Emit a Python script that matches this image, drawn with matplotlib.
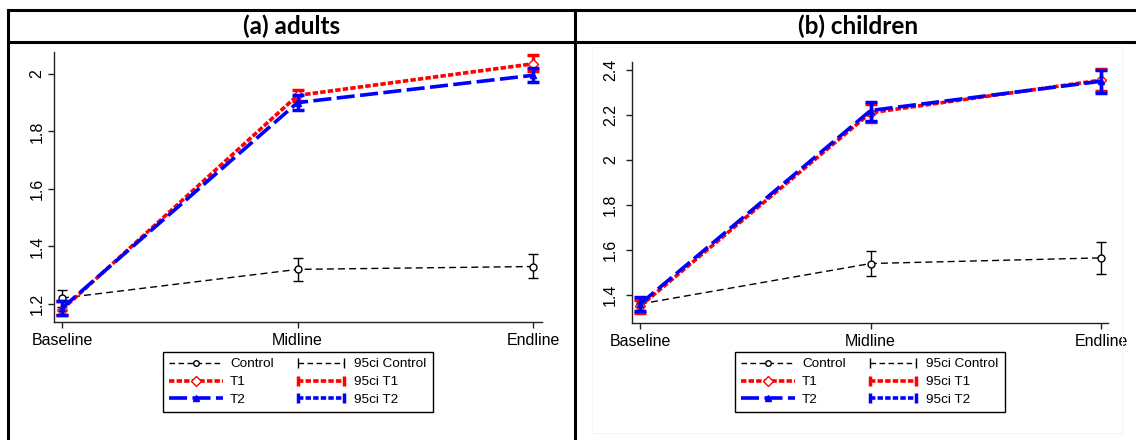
import numpy as np
import matplotlib
matplotlib.use('Agg')
import matplotlib.pyplot as plt
from matplotlib.lines import Line2D
from matplotlib.patches import Rectangle
from matplotlib.legend_handler import HandlerLine2D

plt.rcParams['font.family'] = ['Liberation Sans', 'DejaVu Sans']

waves = ['Baseline', 'Midline', 'Endline']

# (a) adults
adult_ctrl = [1.22, 1.32, 1.33]
adult_ctrl_lo = [1.19, 1.28, 1.29]
adult_ctrl_hi = [1.25, 1.36, 1.375]
adult_t1 = [1.18, 1.925, 2.035]
adult_t1_lo = [1.16, 1.905, 2.01]
adult_t1_hi = [1.21, 1.945, 2.065]
adult_t2 = [1.185, 1.90, 1.995]
adult_t2_lo = [1.16, 1.875, 1.97]
adult_t2_hi = [1.21, 1.925, 2.02]

# (b) children
child_ctrl = [1.36, 1.54, 1.565]
child_ctrl_lo = [1.335, 1.485, 1.495]
child_ctrl_hi = [1.39, 1.595, 1.635]
child_t1 = [1.35, 2.21, 2.355]
child_t1_lo = [1.32, 2.17, 2.305]
child_t1_hi = [1.38, 2.25, 2.405]
child_t2 = [1.36, 2.22, 2.35]
child_t2_lo = [1.33, 2.175, 2.30]
child_t2_hi = [1.39, 2.26, 2.40]

adult_yticks = [1.2, 1.4, 1.6, 1.8, 2.0]
child_yticks = [1.4, 1.6, 1.8, 2.0, 2.2, 2.4]

fig = plt.figure(figsize=(11.36, 4.4), dpi=100)
W, H = 1136, 440


def fx(px):
    return px / W


def fy(py):
    return 1 - py / H


# table-like frame
for x0, y0, x1, y1 in [(8, 10, 1136, 10), (8, 42, 1136, 42), (8, 10, 8, 440), (575, 10, 575, 440)]:
    fig.add_artist(Line2D([fx(x0), fx(x1)], [fy(y0), fy(y1)], color='black', lw=2.2,
                          transform=fig.transFigure))
fig.add_artist(Rectangle((fx(592), fy(433)), fx(1122 - 592), (433 - 47) / H, fill=False,
                         edgecolor='#f4f6f6', lw=0.8, transform=fig.transFigure))

fig.text(fx(292), fy(26), '(a) adults', ha='center', va='center', fontsize=17.5,
         fontweight='bold', family=['Lato', 'DejaVu Sans'])
fig.text(fx(858), fy(26), '(b) children', ha='center', va='center', fontsize=17.5,
         fontweight='bold', family=['Lato', 'DejaVu Sans'])


def panel(rect, ctrl, clo, chi, t1, t1lo, t1hi, t2, t2lo, t2hi, yticks, ylim, xlim, ypad, legx):
    ax = fig.add_axes(rect)
    x = np.arange(len(waves))
    ax.errorbar(x, ctrl, yerr=[np.subtract(ctrl, clo), np.subtract(chi, ctrl)], fmt='none',
                ecolor='black', elinewidth=1, capsize=3.5, capthick=1, zorder=2)
    ax.plot(x, ctrl, color='black', lw=1, dashes=(5, 3), marker='o', markersize=5,
            markerfacecolor='white', markeredgecolor='black', zorder=3)
    ax.errorbar(x, t1, yerr=[np.subtract(t1, t1lo), np.subtract(t1hi, t1)], fmt='none',
                ecolor='red', elinewidth=2.5, capsize=4, capthick=2.5, zorder=4)
    ax.plot(x, t1, color='red', lw=2.6, dashes=(1.5, 0.6), marker='D', markersize=5,
            markerfacecolor='white', markeredgecolor='red', zorder=5)
    ax.errorbar(x, t2, yerr=[np.subtract(t2, t2lo), np.subtract(t2hi, t2)], fmt='none',
                ecolor='blue', elinewidth=2.5, capsize=4, capthick=2.5, zorder=6)
    ax.plot(x, t2, color='blue', lw=2.6, dashes=(5, 1.5), marker='^', markersize=5,
            markerfacecolor='blue', markeredgecolor='blue', zorder=7)

    ax.set_xticks(x)
    ax.set_xticklabels(waves, fontsize=11.5)
    ax.set_yticks(yticks)
    ax.set_yticklabels(['%g' % v for v in yticks], rotation=90, va='center', fontsize=11.5)
    ax.set_xlim(*xlim)
    ax.set_ylim(*ylim)
    for s in ['top', 'right']:
        ax.spines[s].set_visible(False)
    for s in ['left', 'bottom']:
        ax.spines[s].set_color('#222222')
        ax.spines[s].set_linewidth(1)
    ax.tick_params(direction='out', length=4, width=1, color='#222222')
    ax.tick_params(axis='x', pad=4)
    ax.tick_params(axis='y', pad=ypad)

    h_ctrl = Line2D([], [], color='black', lw=1, dashes=(4, 2.5), marker='o', markersize=4,
                    markerfacecolor='white')
    h_t1 = Line2D([], [], color='red', lw=2.6, dashes=(1.5, 0.6), marker='D', markersize=5,
                  markerfacecolor='white')
    h_t2 = Line2D([], [], color='blue', lw=2.6, dashes=(5, 1.5), marker='^', markersize=5)
    c_ctrl = Line2D([], [], color='black', lw=1, dashes=(4, 2.5), marker='|', markersize=7)
    c_t1 = Line2D([], [], color='red', lw=2.6, dashes=(1.5, 0.6), marker='|', markersize=7,
                  markeredgewidth=2.5)
    c_t2 = Line2D([], [], color='blue', lw=2.6, dashes=(1.5, 0.6), marker='|', markersize=7,
                  markeredgewidth=2.5)
    one = HandlerLine2D(numpoints=1)
    two = HandlerLine2D(numpoints=2)
    leg = fig.legend([h_ctrl, h_t1, h_t2, c_ctrl, c_t1, c_t2],
                     ['Control', 'T1', 'T2', '95ci Control', '95ci T1', '95ci T2'],
                     handler_map={h_ctrl: one, h_t1: one, h_t2: one,
                                  c_ctrl: two, c_t1: two, c_t2: two},
                     ncol=2, loc='upper center', bbox_to_anchor=(fx(legx), fy(352)),
                     bbox_transform=fig.transFigure, fontsize=9.7, frameon=True,
                     fancybox=False, edgecolor='black', framealpha=1,
                     handlelength=4.0, handletextpad=0.5, columnspacing=1.5,
                     labelspacing=0.4, borderpad=0.45, borderaxespad=0)
    leg.get_frame().set_linewidth(1)
    return ax


panel([fx(54), fy(322), fx(542 - 54), (322 - 52) / H],
      adult_ctrl, adult_ctrl_lo, adult_ctrl_hi, adult_t1, adult_t1_lo, adult_t1_hi,
      adult_t2, adult_t2_lo, adult_t2_hi, adult_yticks, (1.137, 2.076), (-0.034, 2.038), 3, 298)
panel([fx(632), fy(323), fx(1108 - 632), (323 - 62) / H],
      child_ctrl, child_ctrl_lo, child_ctrl_hi, child_t1, child_t1_lo, child_t1_hi,
      child_t2, child_t2_lo, child_t2_hi, child_yticks, (1.2756, 2.4356), (-0.035, 2.03), 6, 870)

fig.savefig('out.png', dpi=100)
